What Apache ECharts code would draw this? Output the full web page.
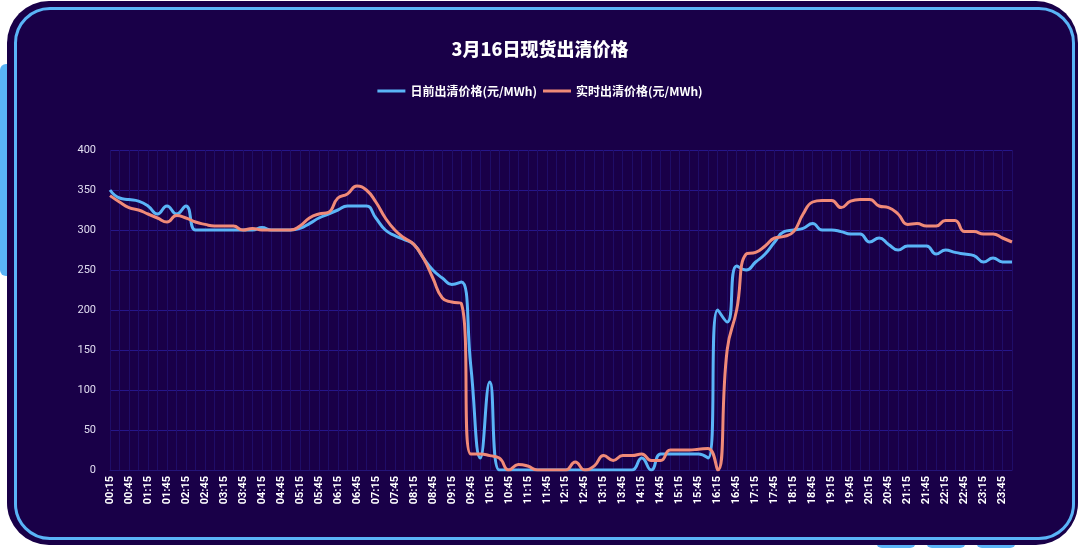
<!DOCTYPE html>
<html><head><meta charset="utf-8">
<script src="https://cdn.jsdelivr.net/npm/echarts@6/dist/echarts.min.js"></script>
<style>
html,body{margin:0;padding:0;background:#fff;width:1080px;height:548px;overflow:hidden;position:relative}
.tab{position:absolute;background:#5ab4f7;border-radius:6px}
#frame{position:absolute;left:7px;top:1px;width:1071px;height:544px;background:#190048;border-radius:42px}
#border{position:absolute;left:14px;top:7px;width:1055px;height:527px;border:3px solid #5ab4f7;border-radius:36px}
#c{position:absolute;left:0;top:0;width:1080px;height:548px}
</style></head><body>
<div class="tab" style="left:0;top:64px;width:14px;height:212px"></div>
<div class="tab" style="left:876px;top:530px;width:40px;height:18px"></div>
<div class="tab" style="left:926px;top:530px;width:40px;height:18px"></div>
<div class="tab" style="left:976px;top:530px;width:40px;height:18px"></div>
<div id="frame"></div><div id="border"></div>
<div id="c"></div>
<script>
const categories=[];
for(let m=15;m<=1440;m+=15){const h=Math.floor(m/60),mm=m%60;categories.push(String(h).padStart(2,'0')+':'+String(mm).padStart(2,'0'));}
const dayAhead=[350,340,338,336,330,320,330,320,330,300,300,300,300,300,300,300,303,300,300,300,302,308,315,320,325,330,330,330,315,300,293,288,282,265,250,240,232,235,130,15,110,0,0,0,0,0,0,0,0,0,0,0,0,0,0,0,15,0,20,20,20,20,20,15,200,185,255,250,260,270,285,298,300,302,308,300,300,298,295,295,285,290,282,275,280,280,280,270,275,272,270,268,260,265,260,260];
const realTime=[343,335,328,325,320,315,310,318,315,310,307,305,305,305,300,302,300,300,300,300,305,315,320,322,340,345,355,350,335,315,300,290,282,265,240,215,210,208,20,20,18,15,0,7,5,0,0,0,0,10,0,5,18,12,18,18,20,12,12,25,25,25,26,27,0,150,200,270,272,280,290,292,298,320,335,337,337,328,336,338,338,330,328,320,307,308,305,305,312,312,298,298,295,295,290,285];
const yTicks=[0,50,100,150,200,250,300,350,400];
const chart=echarts.init(document.getElementById('c'));
chart.setOption({
  title:{text:'3月16日现货出清价格',left:'center',top:35,textStyle:{color:'#fff',fontSize:18,fontWeight:900,fontFamily:'Noto Sans CJK SC'}},
  legend:{top:80,left:'center',itemWidth:28,itemHeight:3,itemGap:6,icon:'rect',textStyle:{color:'#fff',fontSize:12,fontWeight:'bold',fontFamily:'Noto Sans CJK SC'},
    data:['日前出清价格(元/MWh)','实时出清价格(元/MWh)']},
  grid:{left:110,right:68,top:150,bottom:78},
  xAxis:{type:'category',boundaryGap:false,data:categories,
    axisLine:{lineStyle:{color:'#241478'}},axisTick:{show:false},
    axisLabel:{color:'#fff',rotate:90,interval:1,fontSize:11,fontWeight:'bold',fontFamily:'Roboto',margin:6},
    splitLine:{show:true,interval:0,lineStyle:{color:'#1f0d68',width:1}}},
  yAxis:{type:'value',min:yTicks[0],max:yTicks[yTicks.length-1],interval:50,
    axisLine:{show:false},axisTick:{show:false},
    axisLabel:{color:'#e0dcf0',fontSize:11,fontFamily:'Roboto',margin:14},
    splitLine:{lineStyle:{color:'#26168a',width:1}}},
  series:[
    {name:'日前出清价格(元/MWh)',type:'line',smooth:true,showSymbol:false,data:dayAhead,lineStyle:{width:3,color:'#5ab4f7'},itemStyle:{color:'#5ab4f7'}},
    {name:'实时出清价格(元/MWh)',type:'line',smooth:true,showSymbol:false,data:realTime,lineStyle:{width:3,color:'#f08a78'},itemStyle:{color:'#f08a78'}}
  ]
});
</script></body></html>
